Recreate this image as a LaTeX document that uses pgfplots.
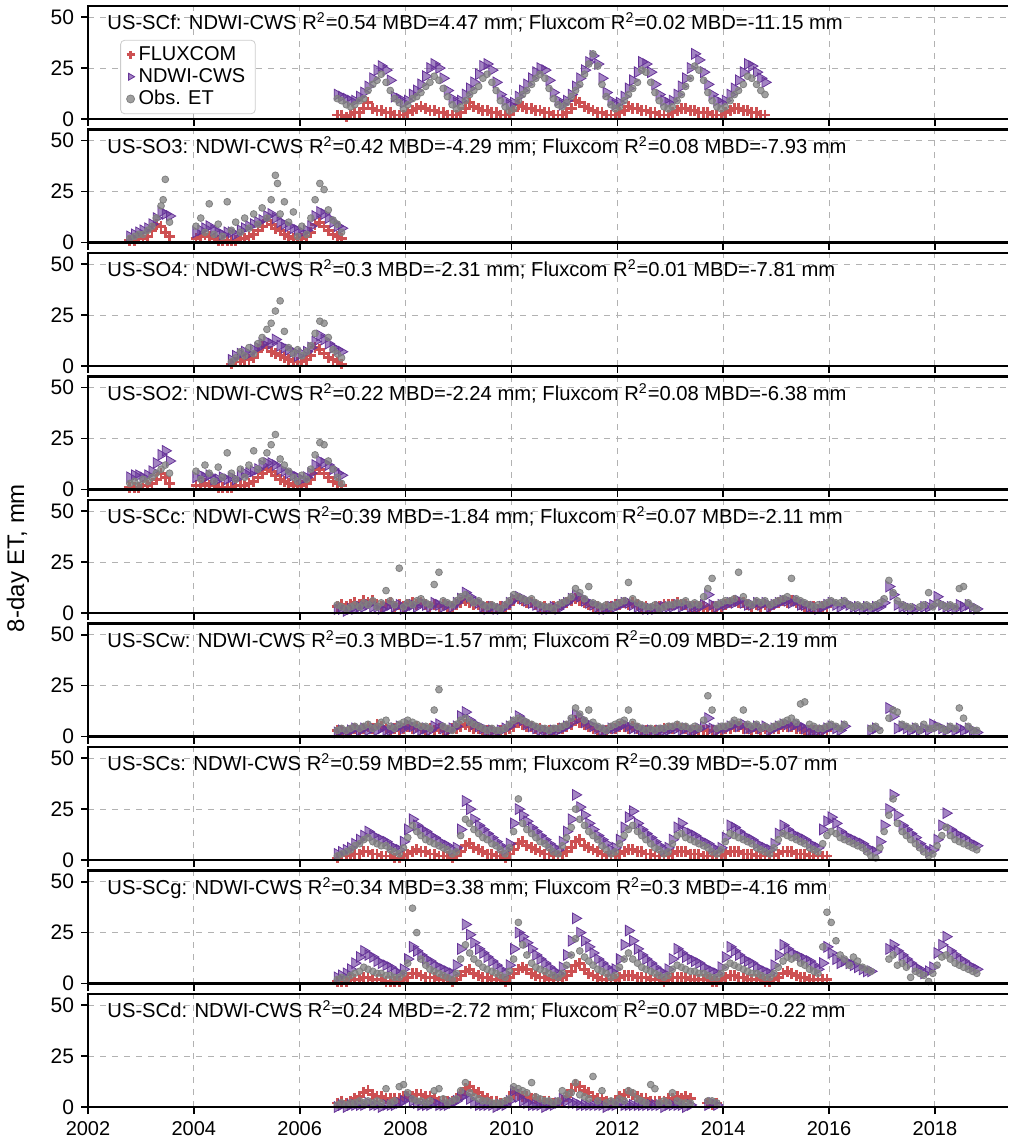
\documentclass[border=0pt]{standalone}
\usepackage{fontspec}
\setmainfont{Liberation Sans}
\usepackage{pgfplots}
\pgfplotsset{compat=1.18}
\usepackage{pgfplotstable}
\definecolor{fxred}{RGB}{205,80,82}
\definecolor{ndpur}{RGB}{102,51,153}
\definecolor{obsgray}{RGB}{128,128,128}
\newcommand{\Rsq}{R\textsuperscript{2}}

\pgfplotstableread{
t f n o
2006.71 2 12 10
2006.79 2 11 9
2006.88 1 10 7
2006.96 2 9 6
2007.04 3 9 7
2007.13 3 11 9
2007.21 5 13 10
2007.29 8 16 14
2007.38 5 20 17
2007.46 4 24 19
2007.54 4 26 22
2007.63 3 24 18
2007.71 3 19 14
2007.79 2 11 10
2007.88 2 10 8
2007.96 2 8 5
2008.04 3 9 7
2008.13 4 12 10
2008.21 5 14 11
2008.29 6 17 13
2008.38 5 21 16
2008.46 4 25 18
2008.54 4 27 21
2008.63 3 25 19
2008.71 3 20 15
2008.79 2 14 11
2008.88 2 10 7
2008.96 2 8 5
2009.04 3 9 6
2009.13 5 12 9
2009.21 8 15 12
2009.29 6 18 14
2009.38 5 22 16
2009.46 4 26 20
2009.54 4 27 22
2009.63 3 24 18
2009.71 3 18 14
2009.79 2 12 9
2009.88 2 9 6
2009.96 2 7 4
2010.04 4 8 5
2010.13 7 11 9
2010.21 6 14 12
2010.29 5 17 14
2010.38 5 20 17
2010.46 4 23 20
2010.54 4 25 22
2010.63 3 24 20
2010.71 3 19 15
2010.79 2 13 10
2010.88 2 9 7
2010.96 2 7 6
2011.04 3 9 8
2011.13 5 12 11
2011.21 9 16 14
2011.29 8 20 17
2011.38 6 24 22
2011.46 5 28 27
2011.54 4 31 32
2011.63 3 27 26
2011.71 3 20 17
2011.79 2 13 11
2011.88 2 9 7
2011.96 2 7 5
2012.04 3 8 6
2012.13 4 11 9
2012.21 6 15 12
2012.29 5 19 15
2012.38 5 23 18
2012.46 4 28 24
2012.54 4 27 23
2012.63 3 23 18
2012.71 3 17 13
2012.79 2 12 9
2012.88 2 9 6
2012.96 2 8 5
2013.04 3 9 6
2013.13 4 12 9
2013.21 5 16 12
2013.29 5 20 16
2013.38 4 25 20
2013.46 4 32 26
2013.54 3 29 24
2013.63 3 23 19
2013.71 3 17 13
2013.79 2 12 9
2013.88 2 9 6
2013.96 2 8 5
2014.04 3 9 6
2014.13 4 12 9
2014.21 5 15 12
2014.29 5 19 14
2014.38 4 23 17
2014.46 4 27 21
2014.54 3 26 20
2014.63 3 23 17
2014.71 2 20 14
2014.79 2 18 12
}\tA

\pgfplotstableread{
t f n o
2002.79 1 3 2
2002.88 1 4 3
2002.96 2 5 4
2003.04 2 6 4
2003.13 3 7 6
2003.21 6 9 8
2003.29 9 12 12
2003.38 8 15 18
2003.46 5 14 31
2003.42 nan nan 21
2003.54 3 13 10
2004.04 2 5 8
2004.13 3 6 12
2004.21 4 7 5
2004.29 3 8 19
2004.38 2 6 4
2004.46 1 5 9
2004.54 1 4 3
2004.63 1 5 20
2004.71 1 5 6
2004.79 1 4 10
2004.88 2 6 5
2004.96 2 7 12
2005.04 3 8 7
2005.13 4 9 14
2005.21 6 10 9
2005.29 8 11 17
2005.38 11 13 12
2005.46 9 14 21
2005.54 7 12 33
2005.58 nan nan 29
2005.63 6 10 14
2005.71 4 9 20
2005.79 3 8 10
2005.88 2 7 15
2005.96 2 6 3
2006.04 2 5 8
2006.13 3 6 4
2006.21 5 8 12
2006.29 9 13 21
2006.38 10 15 29
2006.46 8 14 26
2006.54 6 12 16
2006.63 4 10 11
2006.71 3 8 9
2006.79 2 7 5
}\tB

\pgfplotstableread{
t f n o
2004.71 1 3 2
2004.79 2 5 4
2004.88 2 6 7
2004.96 3 7 5
2005.04 3 6 9
2005.13 4 8 6
2005.21 7 9 11
2005.29 10 11 14
2005.38 9 12 18
2005.46 7 11 21
2005.54 6 13 27
2005.63 5 10 32
2005.71 4 9 17
2005.79 3 8 9
2005.88 2 7 6
2005.96 2 5 8
2006.04 2 6 5
2006.13 3 7 7
2006.21 5 9 10
2006.29 9 12 16
2006.38 8 15 22
2006.46 6 13 21
2006.54 4 11 14
2006.63 3 9 8
2006.71 2 8 6
2006.79 1 7 4
}\tC

\pgfplotstableread{
t f n o
2002.79 1 6 3
2002.88 1 7 4
2002.96 1 7 2
2003.04 2 6 5
2003.13 2 7 4
2003.21 3 9 6
2003.29 5 13 8
2003.38 8 17 10
2003.46 6 19 12
2003.54 3 14 8
2004.04 2 6 9
2004.13 2 7 5
2004.21 3 6 12
2004.29 2 7 8
2004.38 2 5 4
2004.46 1 5 11
2004.54 1 6 6
2004.63 1 5 18
2004.71 1 6 8
2004.79 2 5 5
2004.88 2 7 10
2004.96 2 8 6
2005.04 3 8 12
2005.13 4 9 19
2005.21 6 10 10
2005.29 8 12 14
2005.38 10 13 18
2005.46 9 13 22
2005.54 7 12 27
2005.63 5 10 15
2005.71 4 9 12
2005.79 3 8 9
2005.88 2 7 6
2005.96 2 6 4
2006.04 2 5 7
2006.13 3 6 5
2006.21 5 8 10
2006.29 8 12 17
2006.38 10 14 23
2006.46 8 13 22
2006.54 6 12 14
2006.63 4 10 10
2006.71 3 8 6
2006.79 2 7 3
}\tD

\pgfplotstableread{
t f n o
2006.71 3 2 4
2006.79 4 2 3
2006.88 3 1 2
2006.96 4 2 3
2007.04 5 2 4
2007.13 4 3 3
2007.21 6 3 5
2007.29 5 4 4
2007.38 6 3 6
2007.46 4 3 3
2007.54 3 2 5
2007.63 4 3 11
2007.71 5 4 6
2007.79 3 3 4
2007.88 4 4 22
2007.96 3 2 3
2008.04 4 3 5
2008.13 5 4 4
2008.21 4 3 6
2008.29 5 5 7
2008.38 4 4 5
2008.46 3 3 4
2008.54 4 5 14
2008.63 3 4 20
2008.71 4 3 6
2008.79 3 4 5
2008.88 3 3 4
2008.96 4 5 6
2009.04 5 7 8
2009.13 6 10 9
2009.21 5 8 7
2009.29 4 6 5
2009.38 4 5 6
2009.46 3 3 4
2009.54 3 2 3
2009.63 3 3 4
2009.71 2 2 3
2009.79 3 2 2
2009.88 3 3 4
2009.96 4 5 6
2010.04 6 7 9
2010.13 7 8 8
2010.21 6 7 7
2010.29 5 6 6
2010.38 5 5 7
2010.46 4 4 5
2010.54 3 3 4
2010.63 3 2 3
2010.71 2 2 3
2010.79 3 3 2
2010.88 3 2 4
2010.96 4 4 5
2011.04 5 5 6
2011.13 6 7 8
2011.21 7 9 12
2011.29 6 8 10
2011.38 5 6 7
2011.46 4 5 13
2011.54 3 4 5
2011.63 3 3 4
2011.71 2 2 3
2011.79 3 2 4
2011.88 3 3 3
2011.96 4 3 4
2012.04 4 4 5
2012.13 5 5 6
2012.21 4 5 15
2012.29 5 4 7
2012.38 4 3 5
2012.46 3 3 4
2012.54 3 2 3
2012.63 2 2 3
2012.71 3 2 4
2012.79 3 3 2
2012.88 4 3 3
2012.96 4 3 4
2013.04 4 3 4
2013.13 5 4 5
2013.21 4 3 5
2013.29 4 4 6
2013.38 3 3 4
2013.46 3 3 5
2013.54 3 3 4
2013.63 3 4 8
2013.71 2 9 12
2013.79 3 4 17
2013.88 3 3 4
2013.96 3 4 5
2014.04 4 4 6
2014.13 5 5 6
2014.21 6 5 7
2014.29 5 6 20
2014.38 5 5 8
2014.46 4 4 5
2014.54 3 4 4
2014.63 4 5 6
2014.71 3 4 5
2014.79 4 5 6
2014.88 3 3 4
2014.96 4 4 5
2015.04 5 5 6
2015.13 6 6 7
2015.21 5 6 8
2015.29 6 5 17
2015.38 5 6 7
2015.46 4 4 6
2015.54 3 4 5
2015.63 3 3 4
2015.71 3 3 3
2015.79 2 2 4
2015.88 3 3 4
2015.96 3 4 5
2016.04 nan 5 6
2016.13 nan 4 5
2016.21 nan 3 5
2016.29 nan 5 6
2016.38 nan 4 4
2016.46 nan 3 3
2016.54 nan 3 4
2016.63 nan 2 3
2016.71 nan 3 4
2016.79 nan 2 3
2016.88 nan 3 4
2016.96 nan 3 5
2017.04 nan 5 7
2017.13 nan 13 16
2017.21 nan 9 10
2017.29 nan 4 6
2017.38 nan 3 4
2017.46 nan 3 3
2017.54 nan 2 3
2017.63 nan 2 nan
2017.71 nan nan 3
2017.79 nan 3 4
2017.88 nan 3 10
2017.96 nan 4 3
2018.04 nan 8 5
2018.13 nan 4 4
2018.21 nan 3 3
2018.29 nan 3 4
2018.38 nan 2 3
2018.46 nan 4 12
2018.54 nan 3 13
2018.63 nan 4 5
2018.71 nan 3 3
2018.79 nan 2 2
}\tE

\pgfplotstableread{
t f n o
2006.71 3 2 3
2006.79 3 3 4
2006.88 2 2 3
2006.96 3 3 4
2007.04 4 4 5
2007.13 3 3 4
2007.21 4 4 5
2007.29 5 3 6
2007.38 4 4 4
2007.46 6 3 5
2007.54 5 4 7
2007.63 4 3 8
2007.71 3 3 5
2007.79 4 4 4
2007.88 3 5 6
2007.96 4 4 7
2008.04 5 6 8
2008.13 4 5 7
2008.21 5 4 6
2008.29 4 3 5
2008.38 3 4 5
2008.46 4 3 4
2008.54 3 5 13
2008.63 4 6 23
2008.71 3 4 5
2008.79 3 3 4
2008.88 4 4 3
2008.96 4 5 6
2009.04 5 10 8
2009.13 6 12 9
2009.21 5 8 7
2009.29 4 6 6
2009.38 4 5 5
2009.46 3 4 4
2009.54 3 3 3
2009.63 3 3 4
2009.71 2 2 3
2009.79 3 3 3
2009.88 3 4 4
2009.96 4 5 6
2010.04 5 7 8
2010.13 7 10 9
2010.21 6 8 8
2010.29 5 6 7
2010.38 5 5 6
2010.46 4 4 5
2010.54 4 3 4
2010.63 3 3 4
2010.71 3 2 3
2010.79 3 3 4
2010.88 4 3 4
2010.96 4 4 5
2011.04 5 5 6
2011.13 6 7 9
2011.21 8 11 14
2011.29 7 9 11
2011.38 6 7 8
2011.46 5 6 13
2011.54 4 5 7
2011.63 3 4 5
2011.71 3 3 4
2011.79 3 3 3
2011.88 4 4 5
2011.96 4 4 6
2012.04 5 5 7
2012.13 5 6 8
2012.21 4 5 13
2012.29 5 4 7
2012.38 4 4 5
2012.46 3 3 4
2012.54 3 3 3
2012.63 3 3 4
2012.71 3 2 3
2012.79 3 3 4
2012.88 4 3 4
2012.96 4 3 5
2013.04 4 4 5
2013.13 5 4 6
2013.21 4 3 5
2013.29 4 4 5
2013.38 3 3 4
2013.46 3 3 5
2013.54 3 4 4
2013.63 3 5 8
2013.71 3 9 20
2013.79 3 4 13
2013.88 3 3 4
2013.96 3 4 5
2014.04 4 4 5
2014.13 4 5 6
2014.21 5 6 8
2014.29 5 5 7
2014.38 4 6 13
2014.46 4 4 6
2014.54 3 4 5
2014.63 4 5 6
2014.71 3 4 4
2014.79 4 5 5
2014.88 3 3 4
2014.96 4 4 5
2015.04 4 5 6
2015.13 5 6 7
2015.21 5 6 8
2015.29 5 5 9
2015.38 4 6 7
2015.46 4 5 16
2015.54 3 4 17
2015.63 3 3 6
2015.71 3 3 5
2015.79 3 3 4
2015.88 3 3 4
2015.96 3 4 5
2016.04 nan 5 6
2016.13 nan 4 5
2016.21 nan 3 4
2016.29 nan 5 6
2016.79 nan 3 4
2016.88 nan 4 5
2016.96 nan nan 3
2017.13 nan 14 9
2017.21 nan 10 13
2017.29 nan 4 12
2017.38 nan 5 6
2017.46 nan 4 5
2017.54 nan 3 4
2017.63 nan 4 5
2017.71 nan 3 3
2017.79 nan 4 6
2017.88 nan 3 4
2017.96 nan 6 4
2018.04 nan 5 5
2018.13 nan 4 4
2018.21 nan 3 3
2018.29 nan 4 5
2018.38 nan 3 4
2018.46 nan 4 14
2018.54 nan 3 9
2018.63 nan 4 5
2018.71 nan 3 3
2018.79 nan 2 3
}\tF

\pgfplotstableread{
t f n o
2006.71 1 3 2
2006.79 2 4 3
2006.88 2 5 4
2006.96 2 6 5
2007.04 3 8 7
2007.13 3 10 8
2007.21 4 12 10
2007.29 4 14 11
2007.38 3 12 9
2007.46 3 11 8
2007.54 2 10 7
2007.63 2 9 7
2007.71 2 7 5
2007.79 1 6 4
2007.88 1 5 3
2007.96 2 9 6
2008.04 3 15 11
2008.13 4 20 17
2008.21 5 17 14
2008.29 4 15 12
2008.38 4 14 10
2008.46 3 12 9
2008.54 3 11 8
2008.63 2 9 7
2008.71 2 8 6
2008.79 2 7 5
2008.88 1 5 3
2008.96 2 6 4
2009.04 4 15 12
2009.13 7 29 20
2009.21 8 25 18
2009.29 6 20 15
2009.38 5 17 13
2009.46 4 15 11
2009.54 3 13 10
2009.63 3 11 8
2009.71 2 9 7
2009.79 2 7 5
2009.88 1 5 3
2009.96 3 8 6
2010.04 5 18 14
2010.13 8 25 30
2010.21 9 22 18
2010.29 7 19 15
2010.38 6 16 13
2010.46 5 14 11
2010.54 4 12 9
2010.63 3 10 8
2010.71 3 8 6
2010.79 2 6 4
2010.88 2 5 3
2010.96 3 9 7
2011.04 4 14 11
2011.13 6 20 16
2011.21 9 32 25
2011.29 10 26 20
2011.38 7 22 17
2011.46 6 18 14
2011.54 5 15 12
2011.63 4 12 10
2011.71 3 10 7
2011.79 2 8 5
2011.88 2 5 3
2011.96 2 6 4
2012.04 3 10 8
2012.13 4 16 12
2012.21 5 21 15
2012.29 5 24 17
2012.38 4 18 14
2012.46 4 15 12
2012.54 3 13 10
2012.63 3 11 8
2012.71 2 9 6
2012.79 2 7 5
2012.88 2 5 3
2012.96 2 6 4
2013.04 3 10 8
2013.13 4 16 12
2013.21 4 18 13
2013.29 4 14 11
2013.38 3 13 10
2013.46 3 12 9
2013.54 3 10 8
2013.63 2 9 7
2013.71 2 8 6
2013.79 2 6 4
2013.88 2 5 3
2013.96 2 6 5
2014.04 3 11 9
2014.13 4 17 13
2014.21 4 16 12
2014.29 4 14 11
2014.38 3 12 10
2014.46 3 11 9
2014.54 3 10 8
2014.63 2 8 6
2014.71 2 7 5
2014.79 2 6 4
2014.88 2 5 3
2014.96 2 8 6
2015.04 3 13 10
2015.13 4 17 13
2015.21 4 15 12
2015.29 4 13 11
2015.38 3 12 10
2015.46 3 11 9
2015.54 3 10 8
2015.63 2 8 6
2015.71 2 7 5
2015.79 2 6 4
2015.88 2 15 8
2015.96 2 19 12
2016.04 nan 21 14
2016.13 nan 18 13
2016.21 nan 14 11
2016.29 nan 12 10
2016.38 nan 11 9
2016.46 nan 10 8
2016.54 nan 9 7
2016.63 nan 8 6
2016.71 nan 6 4
2016.79 nan 5 2
2016.88 nan 4 1
2016.96 nan 9 6
2017.04 nan 17 14
2017.13 nan 25 22
2017.21 nan 32 30
2017.29 nan 22 18
2017.38 nan 17 14
2017.46 nan 15 12
2017.54 nan 13 10
2017.63 nan 11 8
2017.71 nan 8 6
2017.79 nan 6 4
2017.88 nan 4 2
2017.96 nan 5 3
2018.04 nan 10 7
2018.13 nan 17 12
2018.21 nan 23 16
2018.29 nan 15 12
2018.38 nan 13 10
2018.46 nan 12 9
2018.54 nan 11 8
2018.63 nan 9 7
2018.71 nan 8 6
2018.79 nan 7 5
}\tG

\pgfplotstableread{
t f n o
2006.71 1 3 2
2006.79 1 4 3
2006.88 1 5 2
2006.96 2 7 4
2007.04 2 10 5
2007.13 2 13 6
2007.21 3 16 8
2007.29 3 14 7
2007.38 2 13 6
2007.46 2 11 5
2007.54 2 10 5
2007.63 1 9 4
2007.71 1 8 4
2007.79 1 6 3
2007.88 1 5 3
2007.96 2 7 5
2008.04 3 12 10
2008.13 5 18 37
2008.21 5 16 25
2008.29 4 14 12
2008.38 3 12 9
2008.46 3 11 7
2008.54 3 9 6
2008.63 2 8 5
2008.71 2 7 4
2008.79 2 6 3
2008.88 1 5 2
2008.96 2 9 5
2009.04 4 17 12
2009.13 6 29 19
2009.21 7 24 15
2009.29 5 20 12
2009.38 4 17 10
2009.46 3 15 8
2009.54 3 13 7
2009.63 2 11 6
2009.71 2 9 5
2009.79 2 7 4
2009.88 1 5 3
2009.96 3 9 6
2010.04 5 17 12
2010.13 7 25 30
2010.21 8 23 19
2010.29 7 20 14
2010.38 5 17 10
2010.46 4 14 8
2010.54 3 12 7
2010.63 3 10 6
2010.71 2 8 5
2010.79 2 6 4
2010.88 2 5 3
2010.96 3 8 5
2011.04 4 14 9
2011.13 6 21 14
2011.21 9 32 22
2011.29 10 25 16
2011.38 7 21 13
2011.46 5 18 11
2011.54 4 15 9
2011.63 3 12 7
2011.71 2 10 6
2011.79 2 8 5
2011.88 2 6 3
2011.96 2 7 4
2012.04 3 12 8
2012.13 4 19 12
2012.21 4 26 15
2012.29 4 21 12
2012.38 3 17 10
2012.46 3 14 8
2012.54 3 12 7
2012.63 2 10 6
2012.71 2 8 5
2012.79 2 6 4
2012.88 1 5 3
2012.96 2 7 4
2013.04 3 12 7
2013.13 3 17 9
2013.21 3 15 8
2013.29 3 13 7
2013.38 2 12 6
2013.46 2 11 6
2013.54 2 10 5
2013.63 2 8 5
2013.71 2 7 4
2013.79 1 6 3
2013.88 1 5 3
2013.96 2 8 5
2014.04 3 13 8
2014.13 4 18 10
2014.21 4 16 9
2014.29 3 14 8
2014.38 3 12 7
2014.46 2 11 6
2014.54 2 10 5
2014.63 2 8 5
2014.71 2 7 4
2014.79 1 6 3
2014.88 1 5 3
2014.96 2 9 5
2015.04 3 14 8
2015.13 5 19 11
2015.21 6 17 13
2015.29 5 15 12
2015.38 4 14 13
2015.46 3 13 10
2015.54 3 12 9
2015.63 2 11 7
2015.71 2 9 6
2015.79 2 7 5
2015.88 2 10 18
2015.96 2 18 35
2016.04 nan 15 30
2016.13 nan 12 21
2016.21 nan 10 14
2016.29 nan 11 12
2016.38 nan 10 9
2016.46 nan 9 13
2016.54 nan 8 11
2016.63 nan 7 8
2016.71 nan 6 7
2016.79 nan 6 6
2017.13 nan 17 12
2017.21 nan 19 14
2017.29 nan 16 9
2017.38 nan 14 10
2017.46 nan 12 8
2017.54 nan 10 3
2017.63 nan 8 6
2017.71 nan 7 5
2017.79 nan 5 4
2017.88 nan 6 1
2017.96 nan 8 5
2018.04 nan 15 9
2018.13 nan 19 13
2018.21 nan 23 14
2018.29 nan 16 12
2018.38 nan 14 10
2018.46 nan 12 9
2018.54 nan 11 8
2018.63 nan 9 7
2018.71 nan 8 6
2018.79 nan 7 5
}\tH

\pgfplotstableread{
t f n o
2006.71 2 0 1
2006.79 3 1 2
2006.88 2 0 1
2006.96 3 1 2
2007.04 4 1 2
2007.13 5 1 3
2007.21 7 1 2
2007.29 8 2 3
2007.38 6 1 2
2007.46 5 1 3
2007.54 5 0 2
2007.63 4 1 9
2007.71 4 1 2
2007.79 4 1 3
2007.88 4 2 10
2007.96 5 3 11
2008.04 5 5 7
2008.13 5 3 4
2008.21 6 2 3
2008.29 6 1 3
2008.38 5 1 2
2008.46 5 1 3
2008.54 4 2 8
2008.63 3 1 9
2008.71 3 1 4
2008.79 3 1 2
2008.88 3 2 3
2008.96 4 3 4
2009.04 6 5 8
2009.13 9 6 12
2009.21 10 4 7
2009.29 8 2 5
2009.38 7 1 4
2009.46 5 1 3
2009.54 4 1 3
2009.63 3 1 2
2009.71 3 0 2
2009.79 2 1 2
2009.88 2 1 3
2009.96 4 3 4
2010.04 7 8 10
2010.13 6 5 9
2010.21 5 3 8
2010.29 5 2 7
2010.38 4 1 12
2010.46 4 1 5
2010.54 3 1 4
2010.63 3 0 3
2010.71 3 1 3
2010.79 2 1 2
2010.88 2 2 3
2010.96 3 4 8
2011.04 5 3 6
2011.13 8 2 7
2011.21 11 2 12
2011.29 10 1 6
2011.38 8 1 5
2011.46 7 1 4
2011.54 5 1 15
2011.63 4 1 3
2011.71 4 1 8
2011.79 3 0 2
2011.88 2 1 3
2011.96 3 1 2
2012.04 5 2 4
2012.13 6 1 3
2012.21 7 1 8
2012.29 6 1 7
2012.38 5 1 4
2012.46 4 1 3
2012.54 4 1 2
2012.63 3 1 11
2012.71 3 1 9
2012.79 3 1 2
2012.88 3 0 3
2012.96 4 1 2
2013.04 4 1 7
2013.13 5 1 3
2013.21 4 1 2
2013.29 5 0 2
2013.38 4 1 2
2013.71 2 1 3
2013.79 1 2 3
2013.88 2 1 2
}\tI

\pgfplotsset{
  panel/.style={
    scale only axis, width=460pt, height=56.5pt,
    anchor=north west,
    xmin=2002, xmax=2019.38, ymin=0, ymax=55.5,
    xtick={2002,2004,...,2018}, ytick={0,25,50},
    grid=major, major grid style={dashed, color=black!30, line width=0.5pt},
    tick align=outside, xtick pos=left, ytick pos=left,
    major tick length=3.5pt, every tick/.style={black, line width=0.8pt},
    axis line style={draw=none},
    xticklabel style={font=\fontsize{10}{12}\selectfont},
    yticklabel style={font=\fontsize{10.5}{12}\selectfont},
    /pgf/number format/assume math mode=true, /pgf/number format/1000 sep={},
  },
  fx/.style={only marks, mark=+, mark size=2.7pt, color=fxred, mark options={line width=1.4pt}},
  nd/.style={only marks, mark=triangle*, mark size=3.1pt, color=ndpur, mark options={rotate=-90, draw=none, fill=ndpur, fill opacity=0.6}},
  ob/.style={only marks, mark=*, mark size=1.7pt, color=obsgray, mark options={draw=none, fill=obsgray, fill opacity=0.75}},
}

\newcommand{\panel}[4]{%
\begin{axis}[panel, at={(0pt,-#1*61.75pt)}, #4,
  extra description/.code={%
    \draw[line width=1.1pt] (1,1) -- (0,1) -- (0,0) -- (1,0);
    \node[anchor=base west, inner sep=0pt, font=\fontsize{10.1}{12}\selectfont] at (0.0207,0.788) {#3};}]
\addplot[fx] table[x=t,y=f]{#2};
\addplot[nd] table[x=t,y=n]{#2};
\addplot[ob] table[x=t,y=o]{#2};
\end{axis}}

\begin{document}
\begin{tikzpicture}
\panel{0}{\tA}{US-SCf: NDWI-CWS \Rsq=0.54 MBD=4.47 mm; Fluxcom \Rsq=0.02 MBD=-11.15 mm}{xticklabels={},
  legend entries={FLUXCOM,NDWI-CWS,Obs. ET},
  legend cell align=left,
  legend image code/.code={\draw[#1, mark size=2pt] plot coordinates {(0.3cm,0cm)};},
  legend style={at={(0.035,0.70)}, anchor=north west, font=\fontsize{10}{11}\selectfont, rounded corners=2pt, draw=black!20, row sep=-1.5pt, inner ysep=1pt}}
\panel{1}{\tB}{US-SO3: NDWI-CWS \Rsq=0.42 MBD=-4.29 mm; Fluxcom \Rsq=0.08 MBD=-7.93 mm}{xticklabels={}}
\panel{2}{\tC}{US-SO4: NDWI-CWS \Rsq=0.3 MBD=-2.31 mm; Fluxcom \Rsq=0.01 MBD=-7.81 mm}{xticklabels={}}
\panel{3}{\tD}{US-SO2: NDWI-CWS \Rsq=0.22 MBD=-2.24 mm; Fluxcom \Rsq=0.08 MBD=-6.38 mm}{xticklabels={}}
\panel{4}{\tE}{US-SCc: NDWI-CWS \Rsq=0.39 MBD=-1.84 mm; Fluxcom \Rsq=0.07 MBD=-2.11 mm}{xticklabels={}}
\panel{5}{\tF}{US-SCw: NDWI-CWS \Rsq=0.3 MBD=-1.57 mm; Fluxcom \Rsq=0.09 MBD=-2.19 mm}{xticklabels={}}
\panel{6}{\tG}{US-SCs: NDWI-CWS \Rsq=0.59 MBD=2.55 mm; Fluxcom \Rsq=0.39 MBD=-5.07 mm}{xticklabels={}}
\panel{7}{\tH}{US-SCg: NDWI-CWS \Rsq=0.34 MBD=3.38 mm; Fluxcom \Rsq=0.3 MBD=-4.16 mm}{xticklabels={}}
\panel{8}{\tI}{US-SCd: NDWI-CWS \Rsq=0.24 MBD=-2.72 mm; Fluxcom \Rsq=0.07 MBD=-0.22 mm}{}
\node[rotate=90, font=\fontsize{12}{14}\selectfont] at (-35pt,-276pt) {8-day ET, mm};
\pgfresetboundingbox
\path[use as bounding box] (-44pt,3pt) rectangle (460pt,-568.5pt);
\end{tikzpicture}
\end{document}
